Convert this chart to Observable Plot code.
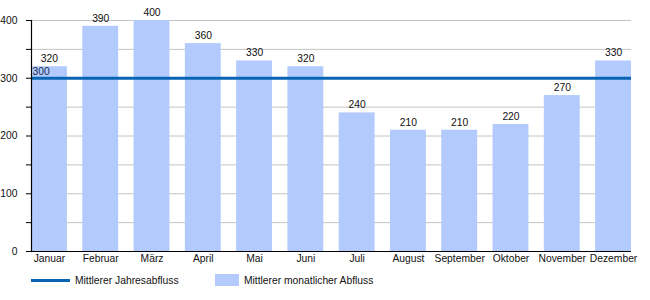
<!DOCTYPE html>
<html>
<head>
<meta charset="utf-8">
<script src="https://cdn.jsdelivr.net/npm/d3@7"></script>
<script src="https://cdn.jsdelivr.net/npm/@observablehq/plot@0.6"></script>
<style>
  body { margin: 0; background: #fff; font-family: "Liberation Sans", Arial, sans-serif; }
  #legend { position: relative; height: 30px; font-size: 10.3px; color: #111; }
  #legend .item { position: absolute; top: 3px; display: flex; align-items: center; height: 14px; }
  #legend .line { width: 39px; height: 3px; background: #0a64b4; margin-right: 5px; }
  #legend .swatch { width: 24px; height: 12px; background: #b3cbfc; margin-right: 5px; }
</style>
</head>
<body>
<div id="chart"></div>
<div id="legend">
  <div class="item" style="left:31px"><span class="line"></span><span id="l1"></span></div>
  <div class="item" style="left:215px"><span class="swatch"></span><span id="l2"></span></div>
</div>
<script>
const months = ["Januar","Februar","März","April","Mai","Juni","Juli","August","September","Oktober","November","Dezember"];
const monthlyFlow = [320, 390, 400, 360, 330, 320, 240, 210, 210, 220, 270, 330];
const annualMean = 300;
const yTicks = [0, 50, 100, 150, 200, 250, 300, 350, 400];
const seriesNames = ["Mittlerer Jahresabfluss", "Mittlerer monatlicher Abfluss"];

const data = months.map((m, i) => ({month: m, value: monthlyFlow[i]}));

const chart = Plot.plot({
  width: 650,
  height: 270,
  marginLeft: 31,
  marginRight: 19,
  marginTop: 20,
  marginBottom: 19,
  style: {fontFamily: "Liberation Sans, Arial, sans-serif", fontSize: "10.3px", color: "#111", background: "#fff"},
  x: {domain: months, paddingInner: 0.3, paddingOuter: 0, round: false, label: null},
  y: {domain: [0, 400], label: null},
  marks: [
    Plot.gridY(yTicks.filter(d => d > 0), {stroke: "#c4c4c4", strokeOpacity: 1}),
    Plot.barY(data, {x: "month", y: "value", fill: "#b3cbfc"}),
    Plot.text(data, {x: "month", y: "value", text: d => String(d.value), dy: -8, fill: "#111"}),
    Plot.ruleY([annualMean], {stroke: "#0a64b4", strokeWidth: 3}),
    Plot.text([annualMean], {y: d => d, text: d => String(d), frameAnchor: "left", textAnchor: "start", dx: 1, dy: -7, fill: "#1a2a50"}),
    Plot.ruleY([0], {stroke: "#000", strokeWidth: 1.2}),
    Plot.frame({anchor: "left", stroke: "#000", strokeWidth: 1.2}),
    Plot.axisY({ticks: yTicks, tickSize: 5, tickPadding: 9, tickFormat: d => d % 100 === 0 ? String(d) : "", stroke: "#000", label: null}),
    Plot.axisX({tickSize: 0, tickPadding: 3, label: null})
  ]
});
document.getElementById("chart").appendChild(chart);
document.getElementById("l1").textContent = seriesNames[0];
document.getElementById("l2").textContent = seriesNames[1];
</script>
</body>
</html>
